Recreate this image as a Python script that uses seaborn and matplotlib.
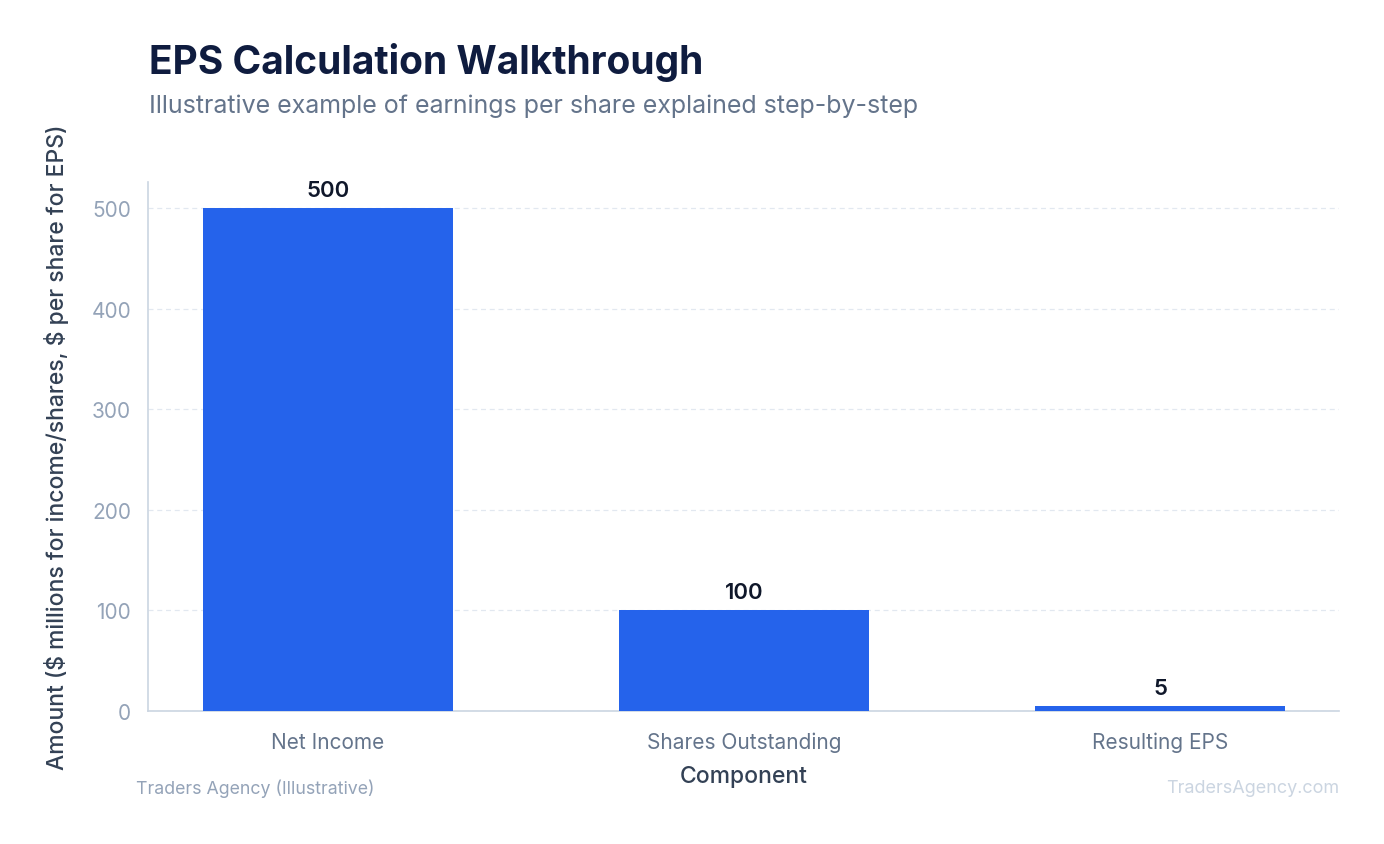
import matplotlib
matplotlib.use("Agg")
import matplotlib.pyplot as plt
import seaborn as sns
import pandas as pd

categories = ["Net Income", "Shares Outstanding", "Resulting EPS"]
values = [500, 100, 5]
value_labels = ["500", "100", "5"]
yticks = [0, 100, 200, 300, 400, 500]

sns.set_theme(style="white")
plt.rcParams["font.family"] = ["Inter", "DejaVu Sans"]
plt.rcParams["text.parse_math"] = False

df = pd.DataFrame({"Component": categories, "Amount": values})

fig = plt.figure(figsize=(13.84, 8.45), dpi=100)
ax = fig.add_axes([0.1069, 0.1574, 0.8606, 0.626])

sns.barplot(data=df, x="Component", y="Amount", color="#2563eb", width=0.6,
            saturation=1, ax=ax, zorder=3, edgecolor="none", linewidth=0)

ax.set_xlim(-0.433, 2.43)
ax.set_ylim(0, 526)
ax.set_yticks(yticks)
ax.grid(axis="y", color="#e2e8f0", linestyle=(0, (4, 3)), linewidth=0.9, zorder=0)
ax.set_axisbelow(True)

for s in ["top", "right"]:
    ax.spines[s].set_visible(False)
for s in ["left", "bottom"]:
    ax.spines[s].set_color("#cbd5e1")
    ax.spines[s].set_linewidth(1.2)

ax.tick_params(axis="y", colors="#94a3b8", labelsize=15, length=6, width=0.8, pad=6)
ax.tick_params(axis="x", colors="#94a3b8", labelsize=15, length=6, width=0.8, pad=9)
for lab in ax.get_xticklabels():
    lab.set_color("#64748b")
for lab in ax.get_yticklabels():
    lab.set_color("#94a3b8")

ax.set_xlabel("Component", fontsize=16.5, color="#334155", labelpad=9,
              fontweight="medium")
ax.set_ylabel("Amount ($ millions for income/shares, $ per share for EPS)",
              fontsize=16.5, color="#334155", labelpad=16, fontweight="medium")

for cont in ax.containers:
    ax.bar_label(cont, labels=value_labels, padding=6, fontsize=16,
                 color="#0f172a", fontweight="semibold")

fig.text(0.1077, 0.9266, "EPS Calculation Walkthrough", fontsize=28,
         fontweight="bold", color="#0f1c3f", va="center", ha="left")
fig.text(0.1077, 0.8746, "Illustrative example of earnings per share explained step-by-step",
         fontsize=18, color="#64748b", va="center", ha="left")

fig.text(136 / 1384, 1 - 789 / 845, "Traders Agency (Illustrative)", fontsize=12.8,
         color="#94a3b8", va="center", ha="left")
fig.text(1339 / 1384, 1 - 789 / 845, "TradersAgency.com", fontsize=13,
         color="#cbd5e1", va="center", ha="right")

fig.savefig("out.png", dpi=100, facecolor="white")
